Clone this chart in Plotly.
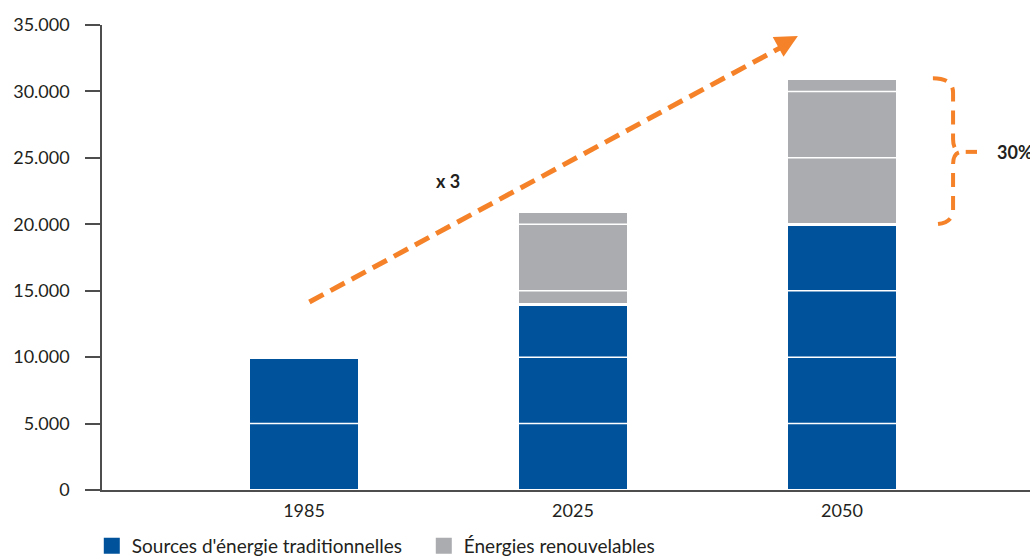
import plotly.graph_objects as go

# Production d'énergie par année (valeurs empilées)
years = ["1985", "2025", "2050"]
traditionnelles = [10000, 14000, 20000]
renouvelables = [0, 7000, 11000]
y_ticks = [0, 5000, 10000, 15000, 20000, 25000, 30000, 35000]

BLUE = "#00529B"
GREY = "#ABACAF"
ORANGE = "#F58228"
AXIS = "#4D4D4D"
TEXT = "#231F20"
FONT = "Lato, 'Liberation Sans', sans-serif"

xpos = list(range(len(years)))

fig = go.Figure()
fig.add_trace(go.Bar(
    x=xpos, y=traditionnelles, width=0.415, name="Sources d'énergie traditionnelles",
    marker=dict(color=BLUE, line=dict(color="white", width=3)), showlegend=False,
))
fig.add_trace(go.Bar(
    x=xpos, y=renouvelables, width=0.415, name="Énergies renouvelables",
    marker=dict(color=GREY, line=dict(color="white", width=3)), showlegend=False,
))

# legend entries with larger square swatches
for name, col in [("Sources d'énergie traditionnelles", BLUE), ("Énergies renouvelables", GREY)]:
    fig.add_trace(go.Scatter(
        x=[None], y=[None], mode="markers", name=name,
        marker=dict(symbol="square", size=16, color=col),
    ))

shapes = []
# white grid lines laid over the bars
for v in y_ticks[1:-1]:
    shapes.append(dict(type="line", xref="paper", yref="y", x0=0.004, x1=1, y0=v, y1=v,
                       line=dict(color="white", width=1.5), layer="above"))

# dashed growth arrow
shapes.append(dict(type="line", xref="x", yref="y", x0=0.02, y0=14150, x1=1.79, y1=33500,
                   line=dict(color=ORANGE, width=5, dash="16px,8px"), layer="above"))

# brace around the renewable share of 2050
brace = ("M 2.338,31000 Q 2.413,31000 2.413,29900 L 2.413,26400 "
         "Q 2.413,25550 2.44,25450 Q 2.413,25350 2.413,24500 L 2.413,21100 "
         "Q 2.413,20000 2.338,20000")
shapes.append(dict(type="path", xref="x", yref="y", path=brace,
                   line=dict(color=ORANGE, width=4, dash="14px,9px"), layer="above"))
shapes.append(dict(type="line", xref="x", yref="y", x0=2.46, x1=2.502, y0=25450, y1=25450,
                   line=dict(color=ORANGE, width=4), layer="above"))

annotations = [
    dict(x=1.836, y=34170, ax=1.771, ay=33450, xref="x", yref="y", axref="x", ayref="y",
         showarrow=True, arrowhead=2, arrowsize=0.9, arrowwidth=5, arrowcolor=ORANGE, text=""),
    dict(x=0.535, y=23260, xref="x", yref="y", text="<b>x 3</b>", showarrow=False,
         font=dict(family=FONT, size=18, color=TEXT)),
    dict(x=2.569, y=25440, xref="x", yref="y", text="<b>30%</b>", showarrow=False,
         xanchor="left", font=dict(family=FONT, size=18, color=TEXT)),
]

fig.update_layout(
    width=1030, height=556,
    margin=dict(l=102, r=0, t=25, b=66, autoexpand=False),
    barmode="stack",
    plot_bgcolor="white", paper_bgcolor="white",
    separators=",.",
    font=dict(family=FONT, size=18, color=TEXT),
    shapes=shapes,
    annotations=annotations,
    legend=dict(orientation="h", x=-0.011, xanchor="left", y=-0.12, yanchor="middle",
                traceorder="normal",
                font=dict(family=FONT, size=19, color=TEXT), entrywidth=287,
                itemclick=False, itemdoubleclick=False),
    xaxis=dict(range=[-0.751, 2.699], tickmode="array", tickvals=xpos, ticktext=years,
               showgrid=False, zeroline=False, showline=True, linecolor=AXIS, linewidth=1.5,
               ticks="", ticklabelstandoff=4, tickfont=dict(family=FONT, size=18, color=TEXT)),
    yaxis=dict(range=[0, 35000], tickmode="array", tickvals=y_ticks, tickformat=",d",
               showgrid=False, zeroline=False, showline=True, linecolor=AXIS, linewidth=1.5,
               ticks="outside", ticklen=15, tickwidth=1.5, tickcolor=AXIS,
               ticklabelstandoff=12, tickfont=dict(family=FONT, size=18, color=TEXT)),
)

fig.write_html("out.html")
